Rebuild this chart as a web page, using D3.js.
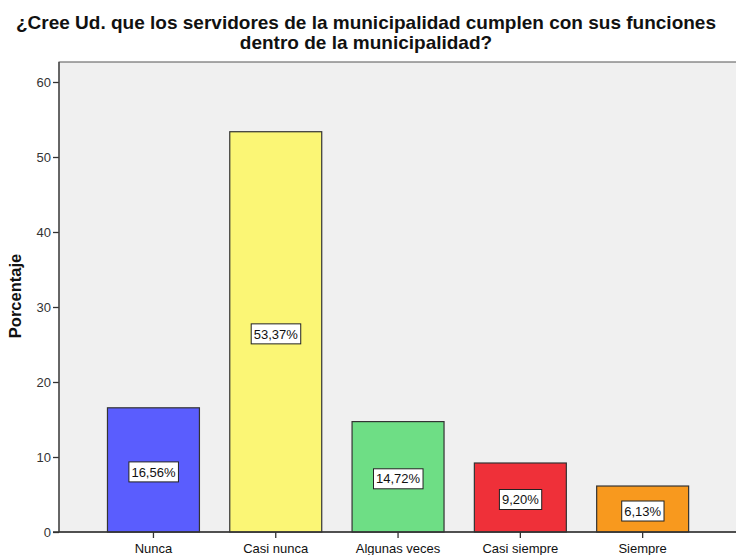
<!DOCTYPE html>
<html>
<head>
<meta charset="utf-8">
<script src="https://cdn.jsdelivr.net/npm/d3@7"></script>
<style>
  html, body { margin: 0; padding: 0; background: #fff; }
  svg { display: block; font-family: Arial, "Liberation Sans", sans-serif; }
</style>
</head>
<body>
<svg id="chart" width="736" height="555"></svg>
<script>
// Response categories and percentage of respondents
const categories = ["Nunca", "Casi nunca", "Algunas veces", "Casi siempre", "Siempre"];
const percentages = [16.56, 53.37, 14.72, 9.20, 6.13];
const barColors = ["#5a5dfe", "#fbf675", "#6ede85", "#ef3039", "#f8991e"];
const yTicks = [0, 10, 20, 30, 40, 50, 60];
const titleLines = [
  "¿Cree Ud. que los servidores de la municipalidad cumplen con sus funciones",
  "dentro de la municipalidad?"
];
const yAxisTitle = "Porcentaje";

const svg = d3.select("#chart");

const plot = { left: 59, top: 62, right: 736, bottom: 532 };

const x = d3.scaleBand()
  .domain(categories)
  .range([92.3, 703.8])
  .paddingInner(0.248)
  .paddingOuter(0.124);

const y = d3.scaleLinear()
  .domain([0, 60])
  .range([532, 82]);

// Plot background
svg.append("rect")
  .attr("x", plot.left)
  .attr("y", plot.top)
  .attr("width", plot.right - plot.left + 2)
  .attr("height", plot.bottom - plot.top)
  .attr("fill", "#f0f0f0")
  .attr("stroke", "#555")
  .attr("stroke-width", 1);

// Bars
const data = categories.map((c, i) => ({ cat: c, value: percentages[i], color: barColors[i] }));

svg.append("g").selectAll("rect")
  .data(data)
  .join("rect")
  .attr("x", d => x(d.cat))
  .attr("y", d => y(d.value))
  .attr("width", x.bandwidth())
  .attr("height", d => y(0) - y(d.value))
  .attr("fill", d => d.color)
  .attr("stroke", "#333")
  .attr("stroke-width", 1.2);

// Value labels in boxes
const fmt = v => d3.format(".2f")(v).replace(".", ",") + "%";
const labels = svg.append("g").selectAll("g")
  .data(data)
  .join("g")
  .attr("transform", d => `translate(${x(d.cat) + x.bandwidth() / 2},${(y(d.value) + y(0)) / 2 + 2})`);

labels.append("text")
  .attr("text-anchor", "middle")
  .attr("dy", "0.36em")
  .attr("font-size", 13)
  .attr("fill", "#111")
  .text(d => fmt(d.value))
  .each(function () {
    const b = this.getBBox();
    d3.select(this.parentNode).insert("rect", "text")
      .attr("x", b.x - 2.5)
      .attr("y", -10)
      .attr("width", b.width + 5)
      .attr("height", 20)
      .attr("fill", "#fff")
      .attr("stroke", "#222")
      .attr("stroke-width", 1);
  });

// Y axis
const yAxis = d3.axisLeft(y).tickValues(yTicks).tickSize(6).tickPadding(2);
const gy = svg.append("g")
  .attr("transform", `translate(${plot.left},0)`)
  .call(yAxis);
gy.select(".domain").remove();
gy.selectAll(".tick line").attr("stroke", "#333").attr("stroke-width", 1.3);
gy.selectAll(".tick text").attr("font-size", 13).attr("fill", "#333").attr("font-family", "Arial, 'Liberation Sans', sans-serif");
svg.append("line")
  .attr("x1", plot.left).attr("x2", plot.left)
  .attr("y1", plot.top).attr("y2", plot.bottom)
  .attr("stroke", "#444").attr("stroke-width", 1.3);

// X axis
const xAxis = d3.axisBottom(x).tickSize(6).tickPadding(6);
const gx = svg.append("g")
  .attr("transform", `translate(0,${plot.bottom})`)
  .call(xAxis);
gx.select(".domain").remove();
gx.selectAll(".tick line").attr("stroke", "#333").attr("stroke-width", 1.3);
gx.selectAll(".tick text").attr("font-size", 13).attr("fill", "#111").attr("font-family", "Arial, 'Liberation Sans', sans-serif");
svg.append("line")
  .attr("x1", plot.left - 6).attr("x2", plot.right)
  .attr("y1", plot.bottom).attr("y2", plot.bottom)
  .attr("stroke", "#333").attr("stroke-width", 1.3);

// Y axis title
svg.append("text")
  .attr("transform", `translate(21,296) rotate(-90)`)
  .attr("text-anchor", "middle")
  .attr("font-size", 16.5)
  .attr("font-weight", "bold")
  .attr("fill", "#111")
  .text(yAxisTitle);

// Chart title
svg.append("g").selectAll("text")
  .data(titleLines)
  .join("text")
  .attr("x", 366)
  .attr("y", (d, i) => 28.5 + i * 20)
  .attr("text-anchor", "middle")
  .attr("font-size", 19)
  .attr("font-weight", "bold")
  .attr("fill", "#111")
  .text(d => d);
</script>
</body>
</html>
